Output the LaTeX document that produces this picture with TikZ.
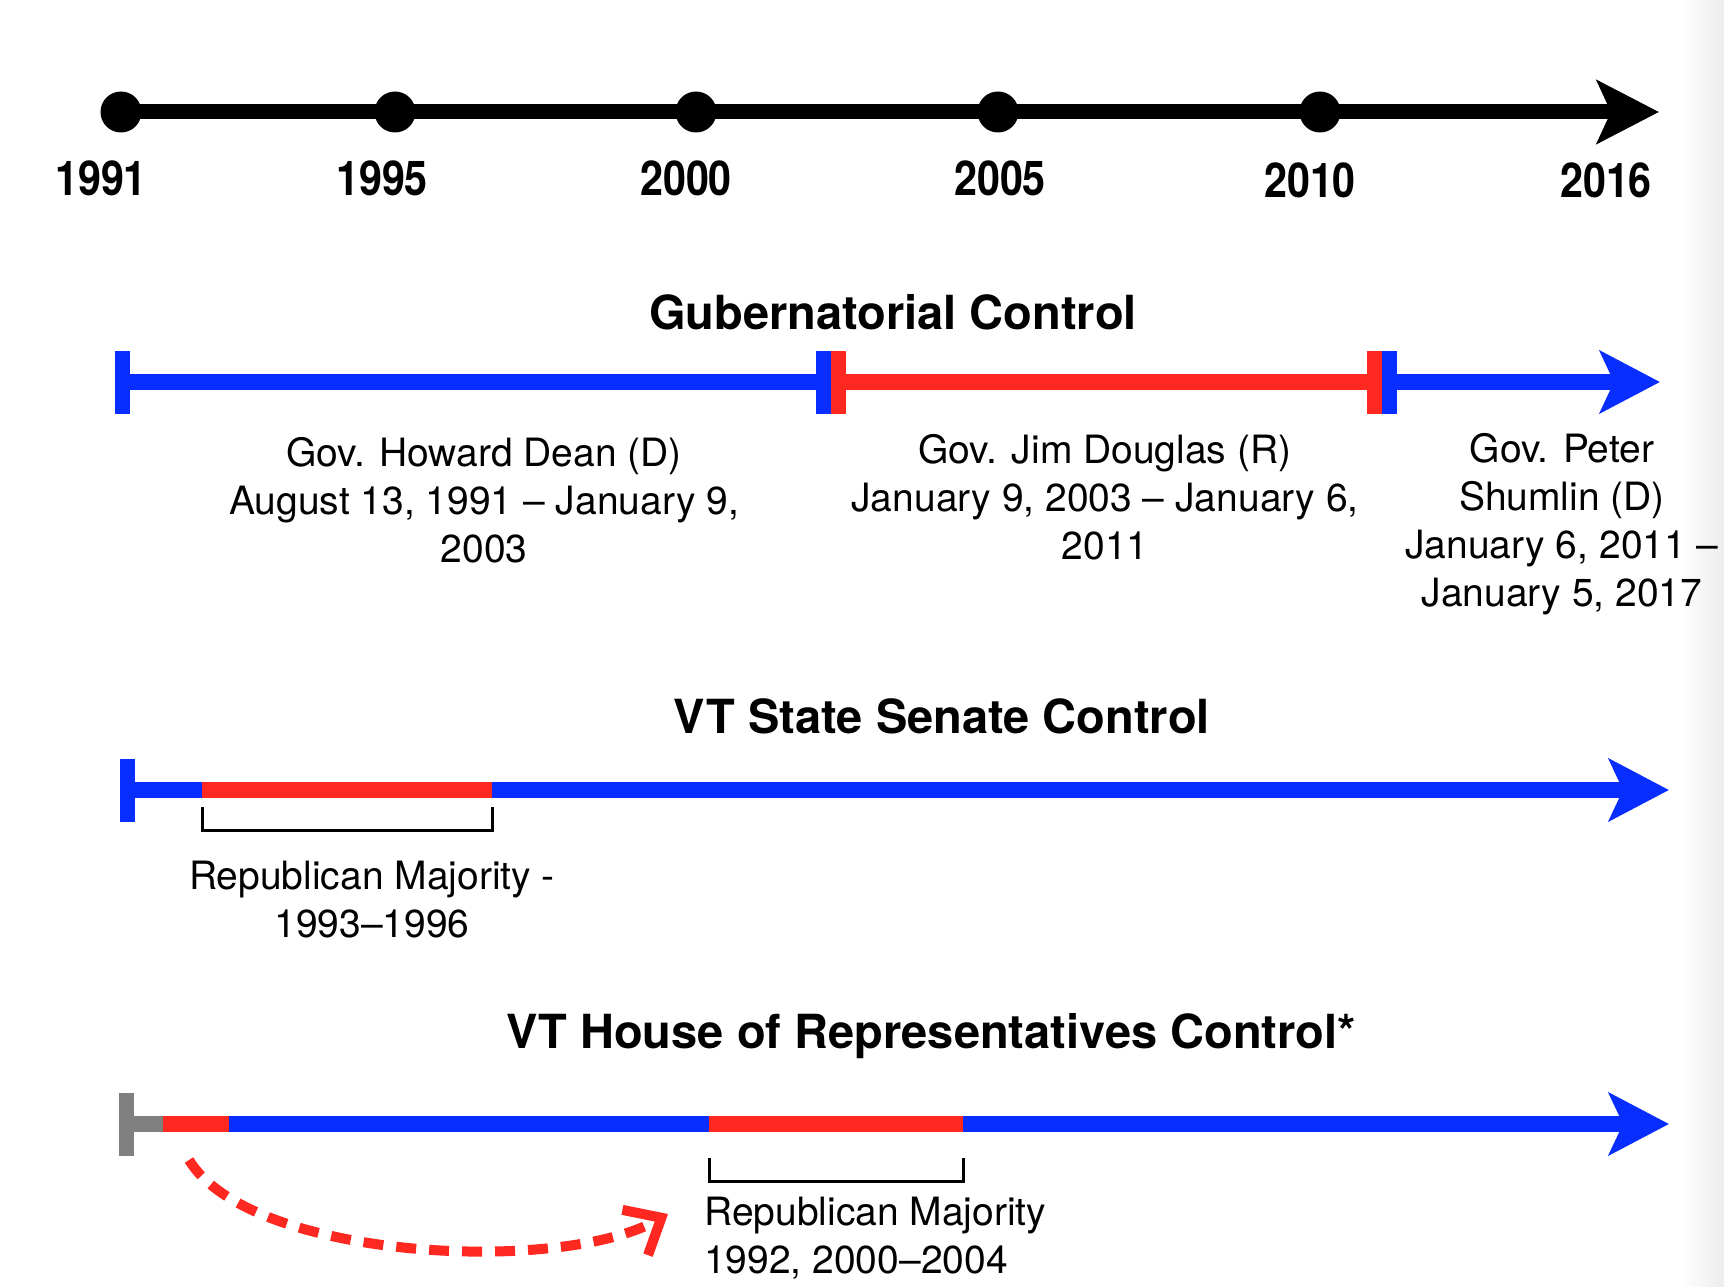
\documentclass[tikz,border=0pt]{standalone}
\usepackage{fontspec}
\setmainfont{TeX Gyre Heros}
\newfontfamily\yearfont[FakeStretch=0.86]{TeX Gyre Heros}
\usetikzlibrary{arrows.meta}
\usetikzlibrary{positioning}
\definecolor{demblue}{RGB}{8,46,255}
\definecolor{repred}{RGB}{255,40,32}
\definecolor{nogray}{RGB}{128,128,128}
\tikzset{
  yeardot/.style={circle, fill=black, inner sep=0pt, minimum size=41pt},
  yearlbl/.style={font=\yearfont\bfseries\fontsize{48}{50}\selectfont},
  heading/.style={font=\bfseries\fontsize{47}{50}\selectfont},
  govlbl/.style={align=center, font=\fontsize{39}{48}\selectfont},
  partytick/.style={rectangle, inner sep=0pt, minimum width=15pt, minimum height=63pt},
  bar/.style={line width=16pt},
  bartip/.style={-{Stealth[length=60pt, width=62pt, inset=14pt]}},
  bracket/.style={line width=3pt, black}
}
\begin{document}
\begin{tikzpicture}[x=1pt,y=-1pt]
\useasboundingbox (0,0) rectangle (1724,1287);
\fill[white] (0,0) rectangle (1724,1287);
\shade[left color=white, right color=gray!14] (1680,0) rectangle (1724,1287);

\coordinate (t0) at (121,112);
\coordinate (t1) at (1659,112);
\draw[line width=15pt, -{Stealth[length=62pt, width=63pt, inset=14pt]}] (t0) -- (t1);
\node[yeardot] (d1991) at (121,112) {};
\node[yeardot] (d1995) at (395,112) {};
\node[yeardot] (d2000) at (696,112) {};
\node[yeardot] (d2005) at (998,112) {};
\node[yeardot] (d2010) at (1320,112) {};
\node[yearlbl] (y1991) at (101,178) {1991};
\node[yearlbl] (y1995) at (382,178) {1995};
\node[yearlbl] (y2000) at (686,178) {2000};
\node[yearlbl] (y2005) at (1000,178) {2005};
\node[yearlbl] (y2010) at (1310,180) {2010};
\node[yearlbl] (y2016) at (1606,180) {2016};

\node[heading] (govhead) at (893,312) {Gubernatorial Control};
\node[partytick, fill=demblue] (g0) at (122,382) {};
\node[partytick, fill=demblue] (g1) at (823,382) {};
\node[partytick, fill=repred] (g2) at (838,382) {};
\node[partytick, fill=repred] (g3) at (1374,382) {};
\node[partytick, fill=demblue] (g4) at (1389,382) {};
\coordinate (g5) at (1660,382);
\draw[bar, demblue] (g0.center) -- (g1.center);
\draw[bar, repred] (g2.center) -- (g3.center);
\draw[bar, demblue, bartip] (g4.center) -- (g5);
\node[govlbl] (dean) at (484,500) {Gov. Howard Dean (D)\\August 13, 1991 – January 9,\\2003};
\node[govlbl] (douglas) at (1105,497) {Gov. Jim Douglas (R)\\January 9, 2003 – January 6,\\2011};
\node[govlbl] (shumlin) at (1562,524) {Gov. Peter\\Shumlin (D)\\January 6, 2011 –\\January 5, 2017};

\node[heading] (senhead) at (942,716) {VT State Senate Control};
\node[partytick, fill=demblue] (s0) at (127,790) {};
\coordinate (s1) at (202,790);
\coordinate (s2) at (492,790);
\coordinate (s3) at (1669,790);
\draw[bar, demblue] (s0.center) -- (s1);
\draw[bar, repred] (s1) -- (s2);
\draw[bar, demblue, bartip] (s2) -- (s3);
\draw[bracket] ([yshift=-17pt]s1) -- ++(0,23) -| ([yshift=-17pt]s2);
\node[govlbl] (senmaj) at (372,900) {Republican Majority -\\1993–1996};

\node[heading] (househead) at (931,1036) {VT House of Representatives Control*};
\node[partytick, fill=nogray] (h0) at (126,1124) {};
\coordinate (h1) at (163,1124);
\coordinate (h2) at (229,1124);
\coordinate (h3) at (709,1124);
\coordinate (h4) at (963,1124);
\coordinate (h5) at (1669,1124);
\draw[bar, nogray] (h0.center) -- (h1);
\draw[bar, repred] (h1) -- (h2);
\draw[bar, demblue] (h2) -- (h3);
\draw[bar, repred] (h3) -- (h4);
\draw[bar, demblue, bartip] (h4) -- (h5);
\draw[bracket] ([yshift=-34pt]h3) -- ++(0,23) -| ([yshift=-34pt]h4);
\node[govlbl, align=left, anchor=west, inner sep=0pt] (housemaj) at (704,1238) {Republican Majority\\1992, 2000–2004};

\coordinate (hnote) at (189,1160);
\coordinate (harrow) at (668,1214);
\draw[repred, line width=10pt, dash pattern=on 20pt off 13pt, -{Straight Barb[length=30pt, width=52pt, line width=10pt]}]
  (hnote) .. controls (250,1260) and (560,1275) .. (harrow);
\end{tikzpicture}
\end{document}
